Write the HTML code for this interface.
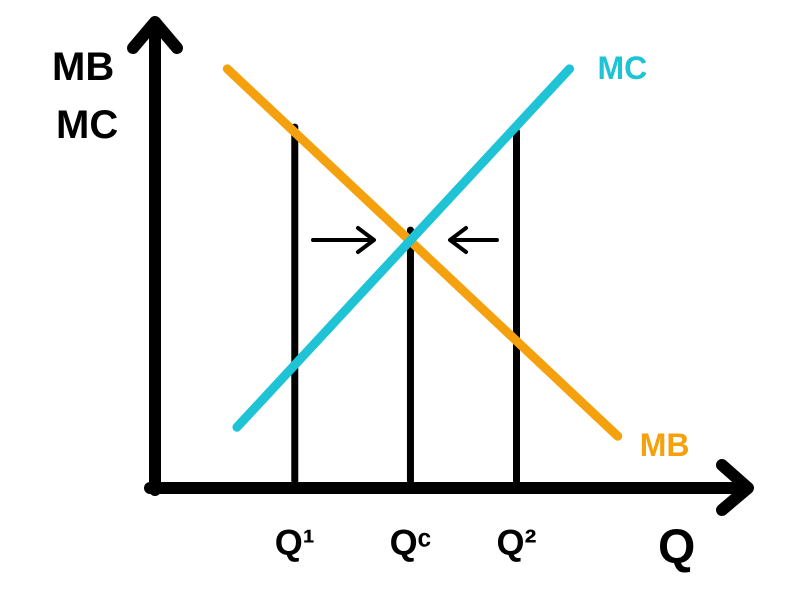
<!DOCTYPE html>
<html>
<head>
<meta charset="utf-8">
<style>
  html, body { margin: 0; padding: 0; background: #fff; }
  svg { display: block; }
  text { font-family: "Liberation Sans", "DejaVu Sans", sans-serif; font-weight: bold; }
</style>
</head>
<body>
<svg id="chart" width="789" height="606" viewBox="0 0 789 606" xmlns="http://www.w3.org/2000/svg">
  <g id="axes">
    <line x1="155" y1="490" x2="155" y2="28" stroke="#000" stroke-width="12" stroke-linecap="round"/>
    <polyline points="133,48 155,22 177,48" fill="none" stroke="#000" stroke-width="12" stroke-linecap="round" stroke-linejoin="round"/>
    <line x1="150" y1="488" x2="740" y2="488" stroke="#000" stroke-width="12" stroke-linecap="round"/>
    <polyline points="722,465 748,488 722,510" fill="none" stroke="#000" stroke-width="12" stroke-linecap="round" stroke-linejoin="round"/>
    <text x="52" y="80" font-size="40" fill="#000">MB</text>
    <text x="56" y="138" font-size="40" fill="#000">MC</text>
    <text x="658" y="563" font-size="48" fill="#000">Q</text>
  </g>
  <g id="marks"></g>
</svg>
<script>
// Data (in chart units: quantity 0..10, price 0..10)
const curveNames = ["MB", "MC"];
const mbPoints = [[1.5, 9.2], [9.6, 1.0]];
const mcPoints = [[1.7, 1.2], [8.6, 9.2]];
const quantityLabels = ["Q\u00B9", "Q\u1D9C", "Q\u00B2"];
const quantityValues = [2.9, 5.3, 7.5];
const quantityTops = [7.9, 5.6, 7.8];

// Axis functions
const x0 = 155, xUnit = 48.2;
const y0 = 481, yUnit = 44.8;
const xs = v => x0 + v * xUnit;
const ys = v => y0 - v * yUnit;

const ns = "http://www.w3.org/2000/svg";
const g = document.getElementById("marks");
function mk(tag, attrs) {
  const e = document.createElementNS(ns, tag);
  for (const k in attrs) e.setAttribute(k, attrs[k]);
  g.appendChild(e);
  return e;
}

// Vertical quantity lines
quantityValues.forEach((q, i) => {
  const l = mk("line", { x1: xs(q), y1: ys(quantityTops[i]), x2: xs(q), y2: ys(0), stroke: "#000", "stroke-width": 7, "stroke-linecap": "round" });
  
  
  const t = mk("text", { x: xs(q), y: 555, "font-size": 36, "text-anchor": "middle", fill: "#000" });
  t.textContent = quantityLabels[i];
  
  
});

// MB curve
const mb = mk("line", { x1: xs(mbPoints[0][0]), y1: ys(mbPoints[0][1]), x2: xs(mbPoints[1][0]), y2: ys(mbPoints[1][1]), stroke: "#F5A10E", "stroke-width": 9, "stroke-linecap": "round" });



// MC curve
const mc = mk("line", { x1: xs(mcPoints[0][0]), y1: ys(mcPoints[0][1]), x2: xs(mcPoints[1][0]), y2: ys(mcPoints[1][1]), stroke: "#1EC3D6", "stroke-width": 9, "stroke-linecap": "round" });



// Curve labels
const mcLabel = mk("text", { x: xs(mcPoints[1][0]) + 28, y: ys(mcPoints[1][1]) + 10, "font-size": 32, fill: "#1EC3D6" });
mcLabel.textContent = curveNames[1];


const mbLabel = mk("text", { x: xs(mbPoints[1][0]) + 22, y: ys(mbPoints[1][1]) + 20, "font-size": 32, fill: "#F5A10E" });
mbLabel.textContent = curveNames[0];



// Arrows toward equilibrium
const ay = 240;
const a1 = mk("path", { d: `M313 ${ay} L373 ${ay} M358 ${ay-12} L374 ${ay} L358 ${ay+12}`, fill: "none", stroke: "#000", "stroke-width": 4, "stroke-linecap": "round", "stroke-linejoin": "round" });


const a2 = mk("path", { d: `M497 ${ay} L451 ${ay} M466 ${ay-12} L450 ${ay} L466 ${ay+12}`, fill: "none", stroke: "#000", "stroke-width": 4, "stroke-linecap": "round", "stroke-linejoin": "round" });


</script>
</body>
</html>
